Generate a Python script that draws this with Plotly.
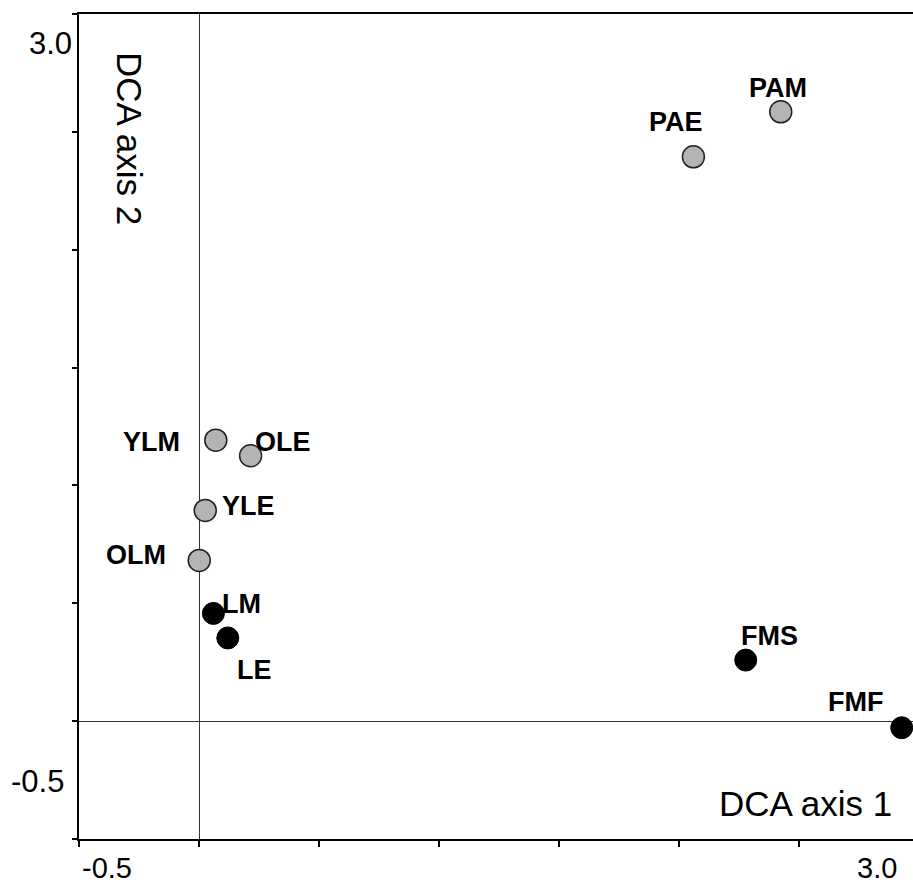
import plotly.graph_objects as go

# ---- data ----
sites = ["PAM", "PAE", "YLM", "OLE", "YLE", "OLM", "LM", "LE", "FMS", "FMF"]
axis1 = [2.424, 2.060, 0.070, 0.215, 0.026, 0.001, 0.060, 0.120, 2.278, 2.928]
axis2 = [2.585, 2.394, 1.192, 1.126, 0.894, 0.682, 0.457, 0.353, 0.259, -0.028]
group = ["grey", "grey", "grey", "grey", "grey", "grey", "black", "black", "black", "black"]

x_tick_labels = ["-0.5", "3.0"]
y_tick_labels = ["3.0", "-0.5"]

# label offsets (pixels, style only)
label_shift = {
    "PAM": (-3, 24), "PAE": (-17, 35), "YLM": (-64, -2), "OLE": (32, 14),
    "YLE": (43, 4), "OLM": (-63, 5), "LM": (28, 9), "LE": (27, -32),
    "FMS": (24, 24), "FMF": (-46, 26),
}

W, H = 913, 886
L, R, T, B = 79, 0, 14, 47
PW, PH = W - L - R, H - T - B

def px(xp, yp):
    # convert page pixel position to plot-area paper coordinates
    return (xp - L) / PW, (H - B - yp) / PH

fig = go.Figure()

for g, fill, lw, lc in [("grey", "#b4b4b4", 1.5, "#222222"), ("black", "#000000", 1, "#000000")]:
    xs = [x for x, gg in zip(axis1, group) if gg == g]
    ys = [y for y, gg in zip(axis2, group) if gg == g]
    fig.add_trace(go.Scatter(
        x=xs, y=ys, mode="markers",
        marker=dict(size=22, color=fill, line=dict(color=lc, width=lw)),
        cliponaxis=False, showlegend=False, hoverinfo="skip",
    ))

FONT = "Liberation Sans, Arial"
for name, x, y in zip(sites, axis1, axis2):
    dx, dy = label_shift[name]
    fig.add_annotation(
        x=x, y=y, xref="x", yref="y", text=f"<b>{name}</b>", showarrow=False,
        xshift=dx, yshift=dy, xanchor="center", yanchor="middle",
        font=dict(family=FONT, size=27, color="black"),
    )

# axis titles
fx, fy = px(805, 803)
fig.add_annotation(x=fx, y=fy, xref="paper", yref="paper", text="DCA axis 1", showarrow=False,
                   xanchor="center", yanchor="middle",
                   font=dict(family=FONT, size=35, color="black"))
fx, fy = px(129, 138)
fig.add_annotation(x=fx, y=fy, xref="paper", yref="paper", text="DCA axis 2", showarrow=False,
                   textangle=90, xanchor="center", yanchor="middle",
                   font=dict(family=FONT, size=35, color="black"))

# endpoint tick labels
tick_font = dict(family=FONT, size=29, color="black")
for txt, (xp, yp) in zip(x_tick_labels, [(107, 868), (877, 868)]):
    fx, fy = px(xp, yp)
    fig.add_annotation(x=fx, y=fy, xref="paper", yref="paper", text=txt, showarrow=False,
                       font=tick_font, yanchor="middle", xanchor="center")
for txt, (xp, yp) in zip(y_tick_labels, [(50, 43), (37, 781)]):
    fx, fy = px(xp, yp)
    fig.add_annotation(x=fx, y=fy, xref="paper", yref="paper", text=txt, showarrow=False,
                       font=dict(family=FONT, size=31, color="black"),
                       yanchor="middle", xanchor="center")

fig.update_xaxes(
    range=[-0.5, -0.5 + PW / 240], dtick=0.5, tick0=-0.5, showgrid=False,
    showline=True, linecolor="black", linewidth=1.5, mirror=True,
    ticks="outside", ticklen=6, tickcolor="black", tickwidth=1.5,
    showticklabels=False,
    zeroline=True, zerolinecolor="#333333", zerolinewidth=1,
)
fig.update_yaxes(
    range=[-0.5, 3.0], dtick=0.5, tick0=-0.5, showgrid=False,
    showline=True, linecolor="black", linewidth=1.5,
    ticks="outside", ticklen=5, tickcolor="black", tickwidth=1.5,
    showticklabels=False,
    zeroline=True, zerolinecolor="#333333", zerolinewidth=1,
)

fig.update_layout(
    width=W, height=H,
    margin=dict(l=L, r=R, t=T, b=B),
    paper_bgcolor="white", plot_bgcolor="white",
)

fig.write_html("out.html")
